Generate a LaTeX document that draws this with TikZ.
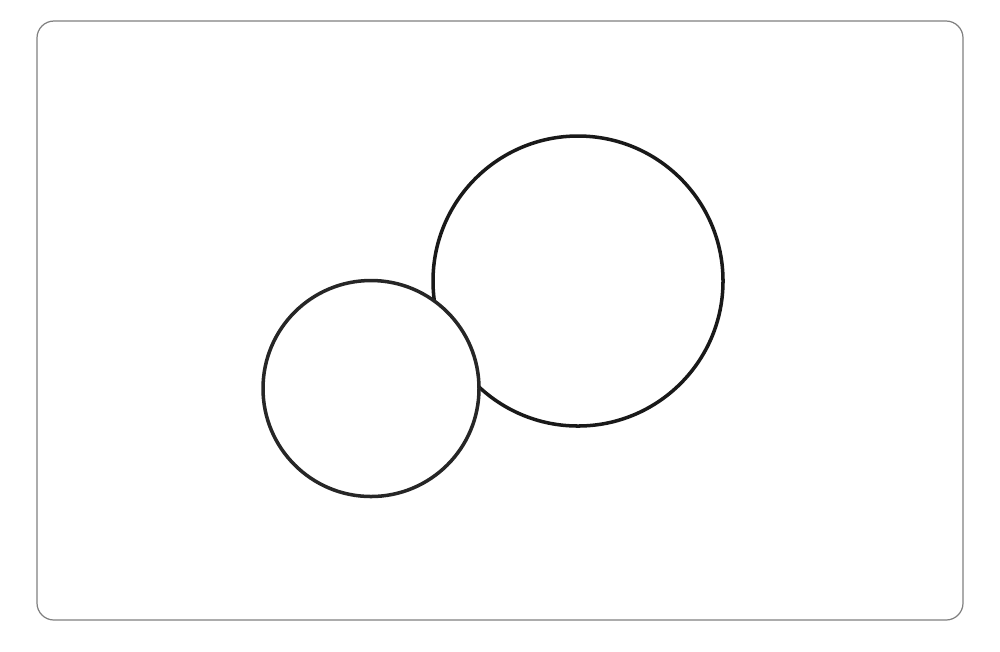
\documentclass[tikz,border=0pt]{standalone}
\usepackage{tikz}

\begin{document}
\begin{tikzpicture}
\useasboundingbox (0,0) rectangle (10,6.51);
\draw [gray, line width=0.35pt, rounded corners=0.17cm] (0.37,0.31) rectangle (9.63,6.30);
\draw [line width=1pt, black!90] (5.78,3.70) circle (1.45);
\draw [line width=1pt, black!85, fill=white] (3.71,2.625) circle (1.08);
\end{tikzpicture}
\end{document}
